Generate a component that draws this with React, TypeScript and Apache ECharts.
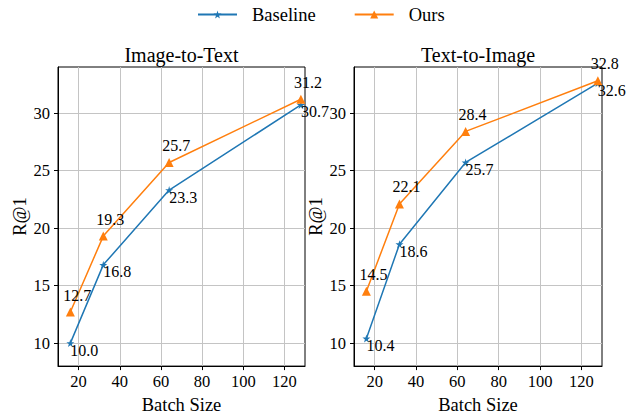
import React, { useEffect, useRef } from "react";
import * as echarts from "echarts";

const xValues = [16, 32, 64, 128];
const i2tBaseline = [10.0, 16.8, 23.3, 30.7];
const i2tOurs = [12.7, 19.3, 25.7, 31.2];
const t2iBaseline = [10.4, 18.6, 25.7, 32.6];
const t2iOurs = [14.5, 22.1, 28.4, 32.8];
const xTicks = [20, 40, 60, 80, 100, 120];
const yTicks = [10, 15, 20, 25, 30];
const titles = ["Image-to-Text", "Text-to-Image"];
const seriesNames = ["Baseline", "Ours"];

const FONT = "Liberation Serif";
const BLUE = "#1f77b4";
const ORANGE = "#ff7f0e";
const STAR = "path://M50,0 L61,35 L98,35 L68,57 L79,91 L50,70 L21,91 L32,57 L2,35 L39,35 Z";

export default function App() {
  const ref = useRef<HTMLDivElement>(null);
  useEffect(() => {
    if (!ref.current) return;
    const chart = echarts.init(ref.current, undefined, { renderer: "svg" });
    const grids = [
      { left: 58, top: 67, width: 247, height: 308 },
      { left: 354, top: 67, width: 248, height: 308 },
    ];
    const pair = (ys: number[]) => xValues.map((x, i) => [x, ys[i]]);
    const fmt = (p: any) => Number(p.value[1]).toFixed(1);
    const mkSeries = (gi: number, name: string, ys: number[]) => {
      const isBase = name === seriesNames[0];
      return {
        type: "line",
        name,
        xAxisIndex: gi,
        yAxisIndex: gi,
        data: pair(ys),
        symbol: isBase ? STAR : "triangle",
        symbolSize: isBase ? 8 : 9,
        showAllSymbol: true,
        color: isBase ? BLUE : ORANGE,
        lineStyle: { width: 1.5, color: isBase ? BLUE : ORANGE },
        itemStyle: { color: isBase ? BLUE : ORANGE },
        z: isBase ? 3 : 4,
        label: {
          show: true,
          position: "inside",
          formatter: fmt,
          fontFamily: FONT,
          fontSize: 16,
          color: "#000",
          align: isBase ? "left" : "center",
          verticalAlign: isBase ? "top" : "bottom",
          offset: isBase ? [0, -1] : [7, -9],
        },
      };
    };
    const axisFont = { fontFamily: FONT, fontSize: 16.5, color: "#000" };
    chart.setOption({
      animation: false,
      backgroundColor: "#fff",
      textStyle: { fontFamily: FONT },
      title: titles.map((t, i) => ({
        text: t,
        left: grids[i].left + grids[i].width / 2,
        textAlign: "center",
        top: 45,
        padding: 0,
        textStyle: { fontFamily: FONT, fontSize: 20, fontWeight: "normal", color: "#000" },
      })),
      legend: {
        data: seriesNames,
        left: 197,
        top: 5,
        padding: 0,
        itemWidth: 39,
        itemHeight: 10,
        itemGap: 38,
        textStyle: { fontFamily: FONT, fontSize: 18.5, color: "#000", padding: [0, 0, 0, 10] },
      },
      grid: grids.map((g) => ({ ...g, show: true, borderColor: "#000", borderWidth: 1, backgroundColor: "transparent" })),
      xAxis: grids.map((_, i) => ({
        type: "value",
        gridIndex: i,
        min: 10,
        max: 130,
        name: "Batch Size",
        nameLocation: "middle",
        nameGap: 24,
        nameTextStyle: { fontFamily: FONT, fontSize: 18.5, color: "#000" },
        axisLine: { show: true, onZero: false, lineStyle: { color: "#000", width: 1 } },
        axisTick: { show: true, inside: false, length: 4, customValues: xTicks, lineStyle: { color: "#000" } },
        axisLabel: { ...axisFont, margin: 7, customValues: xTicks },
        splitLine: { show: true, lineStyle: { color: "#c4c4c4", width: 1 } },
      })),
      yAxis: grids.map((_, i) => ({
        type: "value",
        gridIndex: i,
        min: 8,
        max: 34,
        name: "R@1",
        nameLocation: "middle",
        nameGap: 25,
        nameTextStyle: { fontFamily: FONT, fontSize: 18.5, color: "#000" },
        axisLine: { show: true, onZero: false, lineStyle: { color: "#000", width: 1 } },
        axisTick: { show: true, inside: false, length: 4, customValues: yTicks, lineStyle: { color: "#000" } },
        axisLabel: { ...axisFont, margin: 8, customValues: yTicks },
        splitLine: { show: true, lineStyle: { color: "#c4c4c4", width: 1 } },
      })),
      series: [
        mkSeries(0, "Baseline", i2tBaseline),
        mkSeries(0, "Ours", i2tOurs),
        mkSeries(1, "Baseline", t2iBaseline),
        mkSeries(1, "Ours", t2iOurs),
      ],
    });
    return () => chart.dispose();
  }, []);
  return <div ref={ref} style={{ position: "absolute", left: 0, top: 0, width: 637, height: 419 }} />;
}
